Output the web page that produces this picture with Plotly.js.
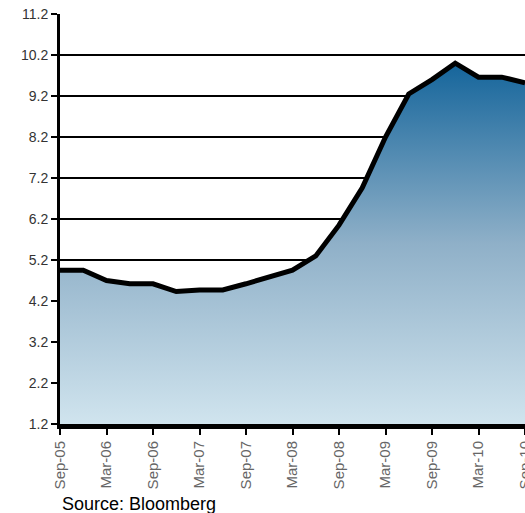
<!DOCTYPE html>
<html><head><meta charset="utf-8">
<script src="https://cdn.plot.ly/plotly-3.0.1.min.js"></script>
<style>html,body{margin:0;padding:0;background:#fff;}#chart{width:525px;height:513px;}</style>
</head><body><div id="chart"></div>
<script>
const quarters = ['Sep-05','Dec-05','Mar-06','Jun-06','Sep-06','Dec-06','Mar-07','Jun-07','Sep-07','Dec-07','Mar-08','Jun-08','Sep-08','Dec-08','Mar-09','Jun-09','Sep-09','Dec-09','Mar-10','Jun-10','Sep-10'];
const values = [4.95,4.95,4.7,4.62,4.62,4.43,4.47,4.47,4.62,4.8,4.95,5.3,6.05,6.96,8.2,9.25,9.6,10.0,9.66,9.66,9.52];
const tickLabels = ['Sep-05','Mar-06','Sep-06','Mar-07','Sep-07','Mar-08','Sep-08','Mar-09','Sep-09','Mar-10','Sep-10'];
const yTicks = [1.2,2.2,3.2,4.2,5.2,6.2,7.2,8.2,9.2,10.2,11.2];

const trace = {
  x: quarters, y: values, type: 'scatter', mode: 'lines',
  line: {color: '#000', width: 5},
  fill: 'tozeroy',
  fillgradient: {type: 'vertical', start: 1.2, stop: 10.0,
    colorscale: [[0, '#d0e4ee'], [0.5, '#8fb0c8'], [1, '#15659b']]},
  hoverinfo: 'skip'
};
const layout = {
  width: 525, height: 513,
  margin: {l: 60, r: 0, t: 14, b: 89},
  paper_bgcolor: '#fff', plot_bgcolor: '#fff',
  showlegend: false,
  xaxis: {
    type: 'category', categoryarray: quarters, range: [0, 20],
    tickvals: tickLabels, tickangle: -90,
    ticks: 'outside', ticklen: 6, tickwidth: 2, tickcolor: '#000',
    tickfont: {family: 'Liberation Sans, Arial', size: 15, color: '#666'},
    showgrid: false, showline: true, linecolor: '#000', linewidth: 5,
    zeroline: false, automargin: false
  },
  yaxis: {
    range: [1.2, 11.2], tickvals: yTicks, ticktext: yTicks.map(v => v.toFixed(1)),
    ticks: 'outside', ticklen: 6, tickwidth: 1.5, tickcolor: '#000',
    tickfont: {family: 'Liberation Sans, Arial', size: 14, color: '#333'},
    showgrid: true, gridcolor: '#000', gridwidth: 1.6,
    showline: true, linecolor: '#000', linewidth: 3,
    zeroline: false, automargin: false
  },
  annotations: [{
    text: 'Source: Bloomberg', xref: 'paper', yref: 'paper',
    x: 0.0, y: -0.195, xanchor: 'left', yanchor: 'middle', showarrow: false,
    font: {family: 'Liberation Sans, Arial', size: 18, color: '#000'}
  }]
};
Plotly.newPlot('chart', [trace], layout, {displayModeBar: false, staticPlot: true});
</script></body></html>
